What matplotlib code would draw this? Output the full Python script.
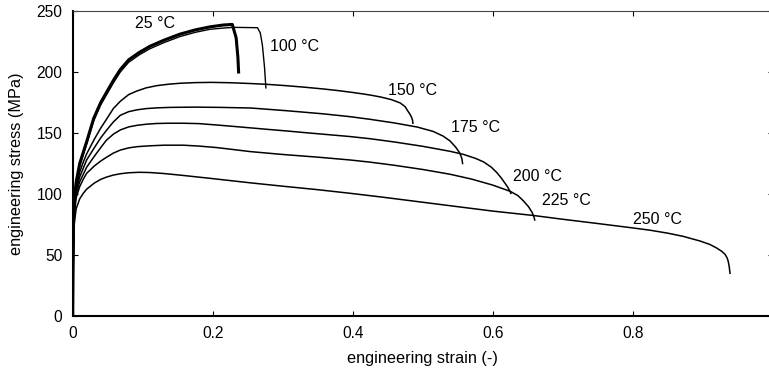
import matplotlib
matplotlib.use("Agg")
import matplotlib.pyplot as plt

# ---- data ----
strain_25 = [0, 0.001, 0.002, 0.005, 0.01, 0.015, 0.02, 0.03, 0.04, 0.048, 0.058, 0.068, 0.08, 0.095,
             0.11, 0.13, 0.153, 0.175, 0.196, 0.215, 0.228, 0.2335, 0.236, 0.237]
stress_25 = [0, 70, 95, 110, 125, 134, 143, 162, 175, 183, 193, 202, 210, 216,
             221, 226, 231, 234.5, 237, 238.5, 239, 228, 212, 200]

strain_100 = [0, 0.001, 0.002, 0.005, 0.01, 0.015, 0.02, 0.03, 0.04, 0.048, 0.058, 0.068, 0.08, 0.095,
              0.11, 0.13, 0.153, 0.175, 0.196, 0.215, 0.23, 0.264, 0.268, 0.271, 0.274, 0.276]
stress_100 = [0, 68, 93, 108, 123, 132, 141, 160, 173, 181, 191, 200, 208, 214,
              219, 224, 229, 232.5, 235, 236, 236.6, 236.3, 232, 222, 204, 187]

strain_150 = [0, 0.001, 0.002, 0.005, 0.01, 0.015, 0.02, 0.031, 0.04, 0.048, 0.058, 0.068, 0.08, 0.092,
              0.105, 0.12, 0.137, 0.154, 0.175, 0.198, 0.225, 0.256, 0.28, 0.307, 0.33, 0.358, 0.38,
              0.399, 0.415, 0.426, 0.44, 0.455, 0.468, 0.475, 0.479, 0.482, 0.484, 0.4855, 0.486]
stress_150 = [0, 60, 88, 105, 118, 126, 133, 145, 154, 161, 170, 176, 181.5, 184.5,
              187, 188.8, 190, 190.8, 191.3, 191.5, 191.2, 190.5, 189.8, 188.7, 187.6, 186.1, 184.7,
              183.3, 182, 181, 179.5, 177.4, 174.6, 171.5, 167.8, 165.2, 163, 160.5, 158]

strain_175 = [0, 0.001, 0.002, 0.005, 0.01, 0.015, 0.02, 0.031, 0.04, 0.048, 0.058, 0.068, 0.08, 0.092,
              0.105, 0.12, 0.14, 0.174, 0.21, 0.254, 0.307, 0.358, 0.396, 0.425, 0.46, 0.492, 0.515,
              0.529, 0.539, 0.547, 0.553, 0.556, 0.557]
stress_175 = [0, 60, 88, 103, 114, 121, 128, 138, 146, 152, 159, 164.5, 167.5, 169,
              170, 170.6, 171, 171.2, 171, 170.5, 168.2, 165.7, 163.4, 161.2, 158.2, 154.9, 151.3,
              147.5, 143.5, 138.5, 133.6, 129, 125]

strain_200 = [0, 0.001, 0.002, 0.005, 0.01, 0.015, 0.02, 0.031, 0.04, 0.048, 0.058, 0.068, 0.08, 0.092,
              0.105, 0.12, 0.137, 0.158, 0.18, 0.205, 0.23, 0.254, 0.28, 0.307, 0.33, 0.358, 0.396,
              0.425, 0.46, 0.5, 0.539, 0.558, 0.575, 0.587, 0.598, 0.606, 0.612, 0.617, 0.621, 0.624, 0.626]
stress_200 = [0, 60, 86, 100, 110, 116, 122, 131, 138, 144, 149, 152.5, 155, 156.3,
              157.2, 157.8, 158, 158, 157.7, 156.6, 155.4, 154.2, 152.9, 151.6, 150.4, 149, 147.1,
              145.3, 142.6, 139.1, 135, 132.5, 129.3, 126.3, 122, 117.5, 113.3, 109.3, 106, 103, 100.5]

strain_225 = [0, 0.001, 0.002, 0.005, 0.01, 0.015, 0.02, 0.031, 0.04, 0.048, 0.058, 0.068, 0.08, 0.092,
              0.11, 0.13, 0.158, 0.18, 0.205, 0.23, 0.253, 0.3, 0.35, 0.396, 0.425, 0.46, 0.5, 0.539,
              0.57, 0.6, 0.625, 0.636, 0.644, 0.651, 0.656, 0.659, 0.66]
stress_225 = [0, 55, 82, 97, 106, 112, 117, 123, 127, 130, 133.5, 136, 137.8, 138.8,
              139.5, 140, 140, 139.3, 138.1, 136.4, 134.8, 132.4, 130.2, 127.9, 126.1, 123.5, 120.1, 116.2,
              112.2, 107.3, 102.2, 98.7, 94.3, 89.7, 85.2, 81.2, 78.7]

strain_250 = [0, 0.001, 0.002, 0.005, 0.01, 0.015, 0.02, 0.031, 0.04, 0.048, 0.058, 0.068, 0.08, 0.095,
              0.11, 0.13, 0.158, 0.2, 0.253, 0.3, 0.349, 0.396, 0.44, 0.491, 0.55, 0.6, 0.658, 0.7,
              0.75, 0.8, 0.825, 0.85, 0.872, 0.896, 0.91, 0.92, 0.927, 0.932, 0.935, 0.9366, 0.938, 0.939]
stress_250 = [0, 50, 75, 88, 96, 100.5, 104, 109, 112, 113.8, 115.5, 116.6, 117.4, 117.8,
              117.6, 116.8, 115.2, 112.6, 109.2, 106.4, 103.6, 100.6, 97.6, 93.9, 89.6, 86, 82.4, 79.3,
              75.8, 72.2, 70.3, 67.9, 65.3, 61.5, 58.7, 55.7, 53.1, 50.5, 47.5, 44.5, 40, 35]

labels = ["25 \u00b0C", "100 \u00b0C", "150 \u00b0C", "175 \u00b0C", "200 \u00b0C", "225 \u00b0C", "250 \u00b0C"]
label_x = [0.089, 0.282, 0.450, 0.540, 0.629, 0.670, 0.800]
label_y = [240, 221, 185, 154.5, 114.3, 95, 79.5]

xticks = [0, 0.2, 0.4, 0.6, 0.8]
xticklabels = ["0", "0.2", "0.4", "0.6", "0.8"]
yticks = [0, 50, 100, 150, 200, 250]

# ---- figure ----
W, H = 769, 372
fig = plt.figure(figsize=(W / 100, H / 100), dpi=100)
left, right, top, bottom = 72.7, 772.7, 11, 316
ax = fig.add_axes([left / W, (H - bottom) / H, (right - left) / W, (bottom - top) / H])

FONT = ["Liberation Sans", "DejaVu Sans"]

ax.plot(strain_25, stress_25, color="black", lw=2.2)
ax.plot(strain_100, stress_100, color="black", lw=1.0)
for sx, sy in [(strain_150, stress_150), (strain_175, stress_175), (strain_200, stress_200),
               (strain_225, stress_225), (strain_250, stress_250)]:
    ax.plot(sx, sy, color="black", lw=1.1)

for t, x, y in zip(labels, label_x, label_y):
    ax.text(x, y, t, fontsize=11.5, family=FONT, va="center", ha="left")

ax.set_xlim(0, 1.0)
ax.set_ylim(0, 250)

ax.set_xticks(xticks)
ax.set_xticklabels(xticklabels, family=FONT, fontsize=11.2)
ax.set_yticks(yticks)
ax.set_yticklabels([str(v) for v in yticks], family=FONT, fontsize=11.2)

ax.tick_params(axis="both", direction="in", length=3.5, width=0.8, top=True, right=True)
ax.tick_params(axis="x", pad=7.5)
ax.tick_params(axis="y", pad=7.5)

ax.spines["top"].set_linewidth(0.8)
ax.spines["top"].set_color("#444444")
ax.spines["left"].set_linewidth(1.5)
ax.spines["bottom"].set_linewidth(1.5)

ax.set_xlabel("engineering strain (-)", family=FONT, fontsize=11.7, labelpad=7)
ax.set_ylabel("engineering stress (MPa)", family=FONT, fontsize=11.7, labelpad=9)

fig.savefig("out.png", dpi=100)
